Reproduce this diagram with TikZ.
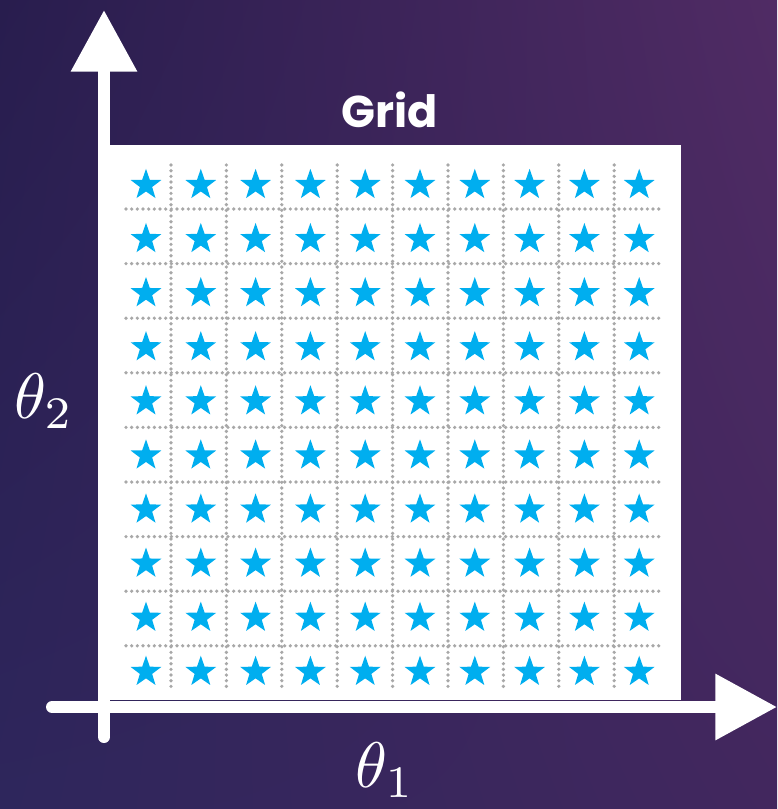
\documentclass[tikz,border=0pt]{standalone}
\usepackage{fontspec}
\usepackage{tikz}
\usetikzlibrary{
  arrows.meta,
  positioning,
  shapes.geometric,
  shadings,
  calc
}
\newfontfamily\gridfont{Poppins}
\definecolor{bgnavy}{RGB}{40,29,78}
\definecolor{bgblue}{RGB}{46,38,92}
\definecolor{bgplum}{RGB}{80,43,100}
\definecolor{bgviolet}{RGB}{66,39,94}
\definecolor{starblue}{RGB}{0,174,239}
\definecolor{dotgray}{RGB}{168,168,168}

\begin{document}
\begin{tikzpicture}[x=0.03cm, y=-0.03cm,
  starmark/.style={star, star points=5, star point ratio=2.5, fill=starblue, draw=none, inner sep=0pt, minimum size=0.97cm},
  gridline/.style={dotgray, line width=0.11cm, line cap=round, dash pattern=on 0pt off 0.17cm},
  axis/.style={white, line width=0.36cm, line cap=round, -{Triangle[length=1.85cm, width=1.9cm]}},
  axislabel/.style={text=white, scale=5.5, inner sep=0pt}]
  \shade[lower left=bgblue, upper left=bgnavy, upper right=bgplum, lower right=bgviolet] (0,0) rectangle (777,809);
  \useasboundingbox (0,0) rectangle (777,809);

  % white panel with the grid of trial points
  \node[fill=white, inner sep=0pt, minimum width=17.49cm, minimum height=16.65cm] (panel) at (389.5,422.5) {};
  \node[above=0.5cm of panel, inner sep=0pt, text=white, font=\gridfont\bfseries\fontsize{38}{44}\selectfont] (title) {Grid};

  \foreach \k in {0,...,8} {
    \draw[gridline] ({171+55.4*\k},165) -- ({171+55.4*\k},689);
    \draw[gridline] (126,{209+54.6*\k}) -- (663,{209+54.6*\k});
  }
  \foreach \i in {0,...,9}
    \foreach \j in {0,...,9}
      \node[starmark] (s-\i-\j) at ({146+54.8*\i},{185+54.1*\j}) {};

  % axes
  \coordinate (ybottom) at (104,737);
  \coordinate (ytop) at (104,10);
  \coordinate (xstart) at (52,707);
  \coordinate (xend) at (777,707);
  \draw[axis] (ybottom) -- (ytop);
  \draw[axis] (xstart) -- (xend);

  \node[axislabel] (thetatwo) at (44,401) {$\theta_2$};
  \node[axislabel] (thetaone) at (385,770) {$\theta_1$};
\end{tikzpicture}
\end{document}
